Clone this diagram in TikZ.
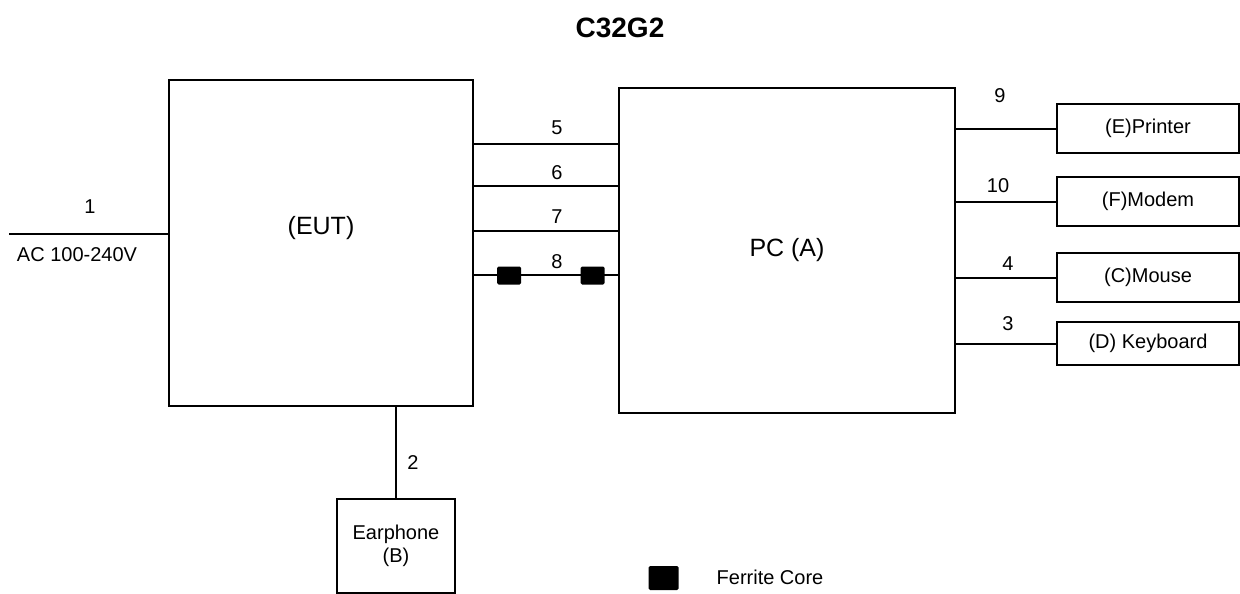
\documentclass[tikz,border=0pt]{standalone}
\usepackage{fontspec}
\setmainfont{Liberation Sans}
\tikzset{
  unitbox/.style={draw, rectangle, inner sep=0pt, align=center},
  core/.style={fill=black, rounded corners=1.5pt, inner sep=0pt},
  bigtext/.style={font=\fontsize{25}{30}\selectfont}
}
\begin{document}
\begin{tikzpicture}[x=1pt, y=-1pt, line width=2pt, font=\fontsize{20}{23}\selectfont]
  \useasboundingbox (0,0) rectangle (1240,594);

  % -- title -----------------------------------------------------------------
  \node[font=\bfseries\fontsize{28}{32}\selectfont] (title) at (620,28) {C32G2};

  % -- EUT and PC --------------------------------------------------------------
  \node[unitbox, minimum width=304, minimum height=326] (eut) at (321,243) {};
  \node[bigtext] (euttxt) at (321,228) {(EUT)};
  \node[unitbox, bigtext, minimum width=336, minimum height=325] (pc) at (787,250.5) {PC (A)};

  % -- peripherals (E, F, C, D) ------------------------------------------------
  \foreach \nm/\y/\h/\txt in {prt/128.5/49/{(E)Printer}, mdm/201.5/49/{(F)Modem},
                              mse/277.5/49/{(C)Mouse}, kbd/343.5/43/{(D) Keyboard}} {
    \node[unitbox, minimum width=182, minimum height=\h] (\nm) at (1148,\y) {\txt};
  }

  % -- earphone (B) ------------------------------------------------------------
  \node[unitbox, minimum width=118, minimum height=94] (eph) at (396,546) {Earphone\\(B)};

  % -- cables ------------------------------------------------------------------
  \coordinate (acin) at (9,234);
  \draw (acin) -- (acin -| eut.west);
  \draw (eut.south -| eph.north) -- (eph.north);
  \foreach \y in {144,186,231,275} {
    \draw (eut.east |- 0,\y) -- (pc.west |- 0,\y);
  }
  \foreach \nm in {prt,mdm,mse,kbd} {
    \draw (pc.east |- \nm.west) -- (\nm.west);
  }

  % -- ferrite cores on cable 8 ------------------------------------------------
  \node[core, minimum width=24, minimum height=18] (fc1) at (509,275.5) {};
  \node[core, minimum width=24, minimum height=18] (fc2) at (592.5,275.5) {};

  % -- cable numbers -----------------------------------------------------------
  \foreach \n/\x/\y in {1/90/207, 2/413/463, 5/557/128, 6/557/173, 7/557/217, 8/557/262,
                        9/1000/96, 10/998/186, 4/1008/264, 3/1008/324} {
    \node (n\n) at (\x,\y) {\n};
  }
  \node (acv) at (77,255) {AC 100-240V};

  % -- legend ------------------------------------------------------------------
  \node[core, minimum width=30, minimum height=24] (fclg) at (663.5,578) {};
  \node (fctxt) at (770,577) {Ferrite Core};
\end{tikzpicture}
\end{document}
